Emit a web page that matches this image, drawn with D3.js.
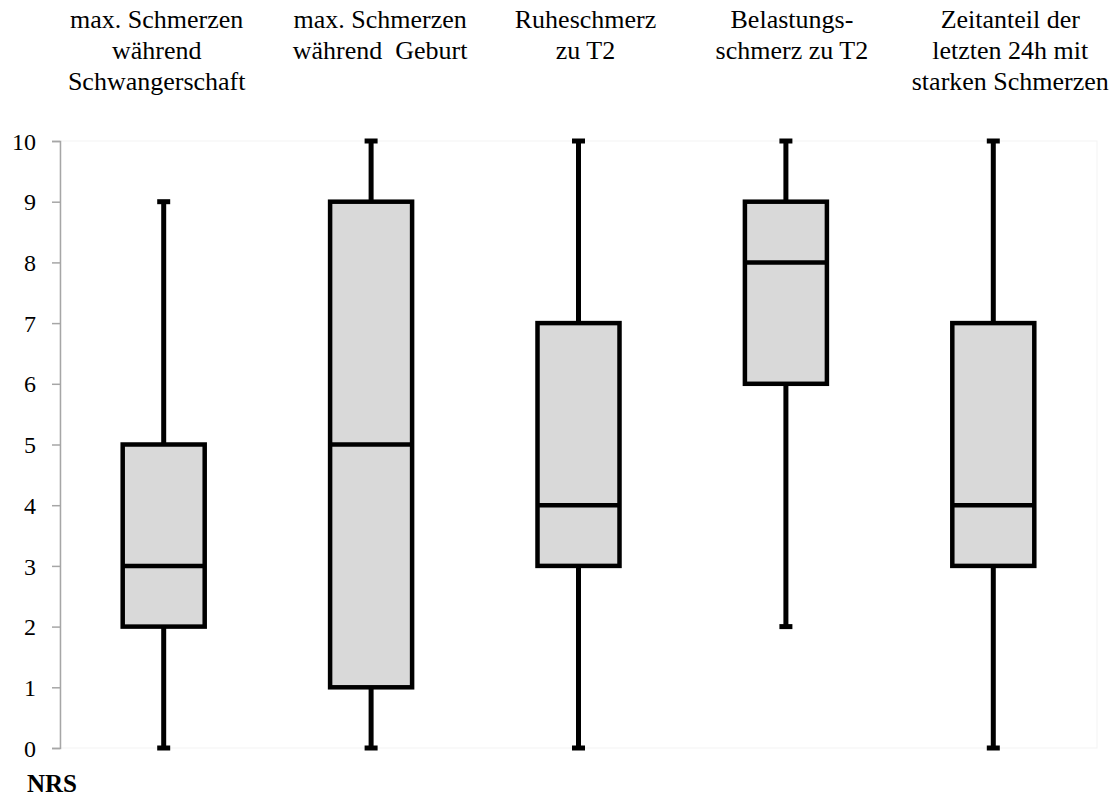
<!DOCTYPE html>
<html>
<head>
<meta charset="utf-8">
<script src="https://cdn.jsdelivr.net/npm/d3@7/dist/d3.min.js"></script>
<style>
  html, body { margin: 0; padding: 0; background: #fff; }
  svg { display: block; }
  svg text { font-family: "Liberation Serif", "Times New Roman", Times, serif; fill: #000; }
</style>
</head>
<body>
<svg id="chart" width="1110" height="801"></svg>
<script>
// Pain scores (NRS 0–10): five-number summaries per item
const categories = [
  ["max. Schmerzen", "während", "Schwangerschaft"],
  ["max. Schmerzen", "während  Geburt"],
  ["Ruheschmerz", "zu T2"],
  ["Belastungs-", "schmerz zu T2"],
  ["Zeitanteil der", "letzten 24h mit", "starken Schmerzen"]
];
const minValues    = [0, 0, 0, 2, 0];
const q1Values     = [2, 1, 3, 6, 3];
const medianValues = [3, 5, 4, 8, 4];
const q3Values     = [5, 9, 7, 9, 7];
const maxValues    = [9, 10, 10, 10, 10];
const yTicks = [0, 1, 2, 3, 4, 5, 6, 7, 8, 9, 10];
const yAxisTitle = "NRS";

const SERIF = "Liberation Serif, Times New Roman, serif";
const svg = d3.select("#chart");
const plot = { left: 60, right: 1097, top: 141, bottom: 748 };

const x = d3.scaleBand()
  .domain(d3.range(categories.length))
  .range([plot.left, plot.right]);
const y = d3.scaleLinear().domain([0, 10]).range([plot.bottom, plot.top]);

// faint plot frame
svg.append("rect")
  .attr("x", plot.left).attr("y", plot.top)
  .attr("width", plot.right - plot.left).attr("height", plot.bottom - plot.top)
  .attr("fill", "none").attr("stroke", "#f3f3f3").attr("stroke-width", 1);

// y axis
const yAxis = svg.append("g")
  .attr("transform", `translate(${plot.left},0)`)
  .call(d3.axisLeft(y).tickValues(yTicks).tickSize(8).tickPadding(16).tickFormat(d3.format("d")));
yAxis.attr("font-family", SERIF).attr("font-size", 24);
yAxis.select(".domain").attr("stroke", "#a6a6a6").attr("stroke-width", 1.5);
yAxis.selectAll(".tick line").attr("stroke", "#a6a6a6").attr("stroke-width", 1.5);
yAxis.selectAll(".tick text")
  .attr("font-family", SERIF)
  .attr("font-size", 24).attr("fill", "#000").attr("dy", "0.34em");

svg.append("text")
  .attr("x", 27).attr("y", 792)
  .attr("font-family", SERIF)
  .attr("font-size", 25).attr("font-weight", "bold")
  .text(yAxisTitle);

// boxes
const boxW = 82;
const capW = 13;
const rows = categories.map((c, i) => ({
  i, min: minValues[i], q1: q1Values[i], med: medianValues[i], q3: q3Values[i], max: maxValues[i]
}));

const g = svg.append("g").selectAll("g").data(rows).join("g")
  .attr("transform", d => `translate(${x(d.i) + x.bandwidth() / 2},0)`);

// whiskers
g.append("line").attr("x1", 0).attr("x2", 0)
  .attr("y1", d => y(d.q3)).attr("y2", d => y(d.max))
  .attr("stroke", "#000").attr("stroke-width", 5);
g.append("line").attr("x1", 0).attr("x2", 0)
  .attr("y1", d => y(d.q1)).attr("y2", d => y(d.min))
  .attr("stroke", "#000").attr("stroke-width", 5);
g.append("line").attr("x1", -capW / 2).attr("x2", capW / 2)
  .attr("y1", d => y(d.max)).attr("y2", d => y(d.max))
  .attr("stroke", "#000").attr("stroke-width", 5);
g.append("line").attr("x1", -capW / 2).attr("x2", capW / 2)
  .attr("y1", d => y(d.min)).attr("y2", d => y(d.min))
  .attr("stroke", "#000").attr("stroke-width", 5);

// interquartile box
g.append("rect")
  .attr("x", -boxW / 2).attr("width", boxW)
  .attr("y", d => y(d.q3)).attr("height", d => y(d.q1) - y(d.q3))
  .attr("fill", "#d9d9d9").attr("stroke", "#000").attr("stroke-width", 4.5);

// median
g.append("line").attr("x1", -boxW / 2).attr("x2", boxW / 2)
  .attr("y1", d => y(d.med)).attr("y2", d => y(d.med))
  .attr("stroke", "#000").attr("stroke-width", 4.5);

// column titles above each box
const titleShift = [-7, 9, 7, 6, 17];
const titles = svg.append("g").selectAll("text").data(categories).join("text")
  .attr("text-anchor", "middle")
  .attr("font-family", SERIF)
  .attr("font-size", 26)
  .attr("transform", (d, i) => `translate(${x(i) + x.bandwidth() / 2 + titleShift[i]},0)`);
titles.selectAll("tspan").data(d => d).join("tspan")
  .attr("x", 0)
  .attr("y", (d, j) => 28 + j * 31)
  .style("white-space", "pre")
  .text(d => d);
</script>
</body>
</html>
